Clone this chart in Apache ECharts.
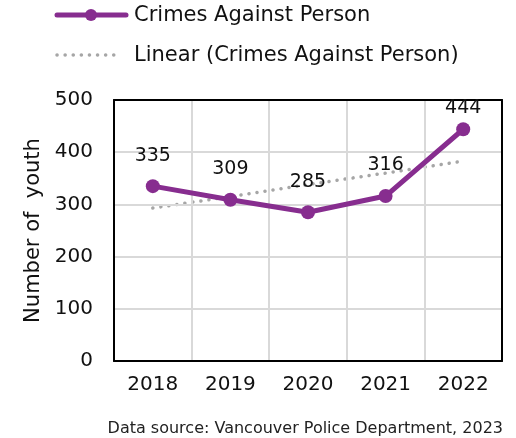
<!DOCTYPE html>
<html>
<head>
<meta charset="utf-8">
<script src="https://cdn.jsdelivr.net/npm/echarts@6/dist/echarts.min.js"></script>
<style>
  html, body { margin: 0; padding: 0; background: #fff; }
  #chart { width: 516px; height: 438px; }
</style>
</head>
<body>
<div id="chart"></div>
<script>
// Youth crimes against person, Vancouver
const years = ['2018', '2019', '2020', '2021', '2022'];
const crimesAgainstPerson = [335, 309, 285, 316, 444];
const linearTrend = [293, 315, 338, 360, 383];
const yTicks = [0, 100, 200, 300, 400, 500];
const seriesNames = ['Crimes Against Person', 'Linear (Crimes Against Person)'];

const FONT = '"DejaVu Sans", sans-serif';
const PURPLE = '#872D8F';
const GREY = '#A6A6A6';
const INK = '#111';

const chart = echarts.init(document.getElementById('chart'), null, { renderer: 'canvas' });

// frame-only axes for the top and right edges of the plot box
const frameAxis = {
  show: true,
  axisLine: { show: true, onZero: false, lineStyle: { color: '#000', width: 2 } },
  axisTick: { show: false },
  axisLabel: { show: false },
  splitLine: { show: false }
};

// the peak value's label sits closer to its point so it stays near the frame
const peak = Math.max(...crimesAgainstPerson);
const crimeData = crimesAgainstPerson.map(v =>
  v === peak ? { value: v, label: { distance: 5 } } : v
);

chart.setOption({
  animation: false,
  backgroundColor: '#fff',
  textStyle: { fontFamily: FONT },
  title: {
    text: 'Data source: Vancouver Police Department, 2023',
    right: 8,
    bottom: -4,
    textStyle: { fontFamily: FONT, fontSize: 16, fontWeight: 'normal', color: '#222' }
  },
  // legend drawn as shapes + text
  graphic: [
    { type: 'line', shape: { x1: 57, y1: 15, x2: 126, y2: 15 },
      style: { stroke: PURPLE, lineWidth: 5, lineCap: 'round' } },
    { type: 'circle', shape: { cx: 91, cy: 15, r: 6 }, style: { fill: PURPLE } },
    { type: 'text', left: 134, top: 5,
      style: { text: seriesNames[0], font: '21px ' + FONT, fill: INK } },
    { type: 'line', shape: { x1: 57, y1: 55, x2: 120, y2: 55 },
      style: { stroke: GREY, lineWidth: 3.5, lineCap: 'round', lineDash: [0.1, 8] } },
    { type: 'text', left: 134, top: 45,
      style: { text: seriesNames[1], font: '21px ' + FONT, fill: INK } }
  ],
  grid: {
    left: 114,
    right: 14,
    top: 100,
    bottom: 77
  },
  xAxis: [
    {
      type: 'category',
      data: years,
      axisLine: { show: true, lineStyle: { color: '#000', width: 2 } },
      axisTick: { show: false },
      axisLabel: { fontFamily: FONT, fontSize: 20, color: INK, margin: 14 },
      splitLine: { show: true, lineStyle: { color: '#D9D9D9', width: 2 } },
      z: 3
    },
    Object.assign({ type: 'category', data: years, position: 'top', z: 3 }, frameAxis)
  ],
  yAxis: [
    {
      type: 'value',
      min: yTicks[0],
      max: yTicks[yTicks.length - 1],
      interval: 100,
      name: 'Number of  youth',
      nameLocation: 'middle',
      nameGap: 67,
      nameTextStyle: { fontFamily: FONT, fontSize: 21, color: INK },
      axisLine: { show: true, lineStyle: { color: '#000', width: 2 } },
      axisTick: { show: false },
      axisLabel: { fontFamily: FONT, fontSize: 20, color: INK, margin: 21 },
      splitLine: { show: true, lineStyle: { color: '#D9D9D9', width: 2 } },
      z: 3
    },
    Object.assign({
      type: 'value', min: yTicks[0], max: yTicks[yTicks.length - 1],
      interval: 100, position: 'right', z: 3
    }, frameAxis)
  ],
  series: [
    {
      name: seriesNames[1],
      type: 'line',
      data: linearTrend,
      symbol: 'none',
      z: 1,
      itemStyle: { color: GREY },
      lineStyle: { color: GREY, width: 3.5, type: [0.1, 8], cap: 'round' }
    },
    {
      name: seriesNames[0],
      type: 'line',
      data: crimeData,
      symbol: 'circle',
      symbolSize: 14,
      z: 3,
      itemStyle: { color: PURPLE },
      lineStyle: { color: PURPLE, width: 5 },
      label: {
        show: true,
        position: 'top',
        distance: 14,
        fontFamily: FONT,
        fontSize: 19,
        color: INK
      }
    }
  ]
});
</script>
</body>
</html>
